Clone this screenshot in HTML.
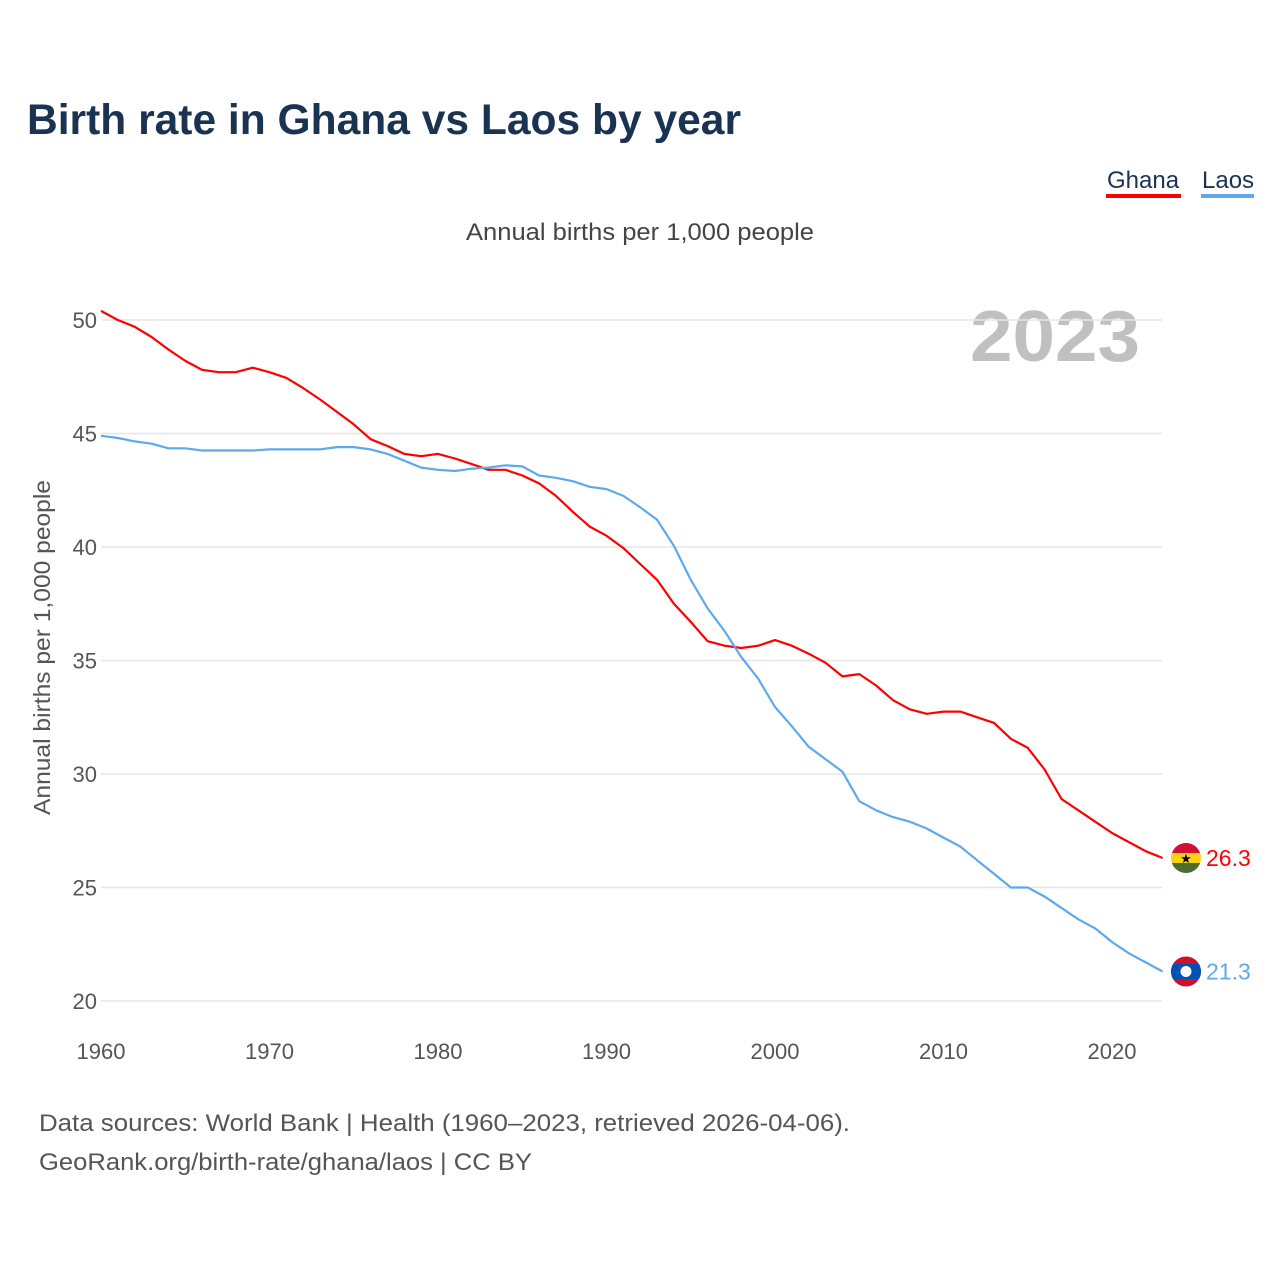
<!DOCTYPE html>
<html><head><meta charset="utf-8">
<style>
body{margin:0;background:#fff;font-family:"Liberation Sans",sans-serif;}
svg{display:block}
</style></head>
<body>
<svg id="chart" width="1280" height="1280" viewBox="0 0 1280 1280" xmlns="http://www.w3.org/2000/svg">
<text x="27" y="134" font-size="43" font-weight="bold" fill="#1a3353" textLength="714" lengthAdjust="spacingAndGlyphs">Birth rate in Ghana vs Laos by year</text>
<g>
<g><text x="1107" y="188" font-size="24" fill="#1a3353">Ghana</text><rect x="1106" y="194" width="75" height="4" fill="#ff0000"/></g>
<g><text x="1202" y="188" font-size="24" fill="#1a3353">Laos</text><rect x="1201" y="194" width="53" height="4" fill="#5ea9ec"/></g>
</g>
<text x="466" y="240" font-size="24" fill="#444" textLength="348" lengthAdjust="spacingAndGlyphs">Annual births per 1,000 people</text>
<text x="970" y="361" font-size="72" font-weight="bold" fill="#c0c0c0" textLength="170" lengthAdjust="spacingAndGlyphs">2023</text>
<text transform="translate(50,815) rotate(-90)" font-size="23" fill="#555" textLength="335" lengthAdjust="spacingAndGlyphs">Annual births per 1,000 people</text>
<g id="grid"></g>
<g id="yticks"></g>
<g id="xticks"></g>
<g id="series"></g>
<g id="ends"></g>
<text x="39" y="1131" font-size="24" fill="#555" textLength="811" lengthAdjust="spacingAndGlyphs">Data sources: World Bank | Health (1960–2023, retrieved 2026-04-06).</text>
<text x="39" y="1170" font-size="24" fill="#555" textLength="493" lengthAdjust="spacingAndGlyphs">GeoRank.org/birth-rate/ghana/laos | CC BY</text>
</svg>
<script>
const startYear = 1960;
const ghana = [50.4,50.0,49.7,49.25,48.7,48.2,47.8,47.7,47.7,47.9,47.7,47.45,47.0,46.5,45.95,45.4,44.75,44.45,44.1,44.0,44.1,43.9,43.65,43.4,43.4,43.15,42.8,42.25,41.55,40.9,40.5,39.95,39.25,38.55,37.5,36.7,35.85,35.65,35.55,35.65,35.9,35.65,35.3,34.9,34.3,34.4,33.9,33.25,32.85,32.65,32.75,32.75,32.5,32.25,31.55,31.15,30.2,28.9,28.4,27.9,27.4,27.0,26.6,26.3];
const laos = [44.9,44.8,44.65,44.55,44.35,44.35,44.25,44.25,44.25,44.25,44.3,44.3,44.3,44.3,44.4,44.4,44.3,44.1,43.8,43.5,43.4,43.35,43.45,43.5,43.6,43.55,43.15,43.05,42.9,42.65,42.55,42.25,41.75,41.2,40.05,38.55,37.3,36.3,35.15,34.2,32.95,32.1,31.2,30.65,30.1,28.8,28.4,28.1,27.9,27.6,27.2,26.8,26.2,25.6,25.0,25.0,24.6,24.1,23.6,23.2,22.6,22.1,21.7,21.3];
const yTicks = [20,25,30,35,40,45,50];
const xTicks = [1960,1970,1980,1990,2000,2010,2020];

const NS="http://www.w3.org/2000/svg";
const x = yr => 101 + (yr-1960)*(1011/60);
const y = v => 1001 - (v-20)*(681/30);
function mk(tag, attrs, parent, txt){const e=document.createElementNS(NS,tag);for(const k in attrs)e.setAttribute(k,attrs[k]);if(txt!==undefined)e.textContent=txt;parent.appendChild(e);return e;}
const grid=document.getElementById('grid'), yt=document.getElementById('yticks'), xt=document.getElementById('xticks'), ser=document.getElementById('series'), ends=document.getElementById('ends');
yTicks.forEach(t=>{
  const l=mk('line',{x1:101,x2:1162,y1:y(t),y2:y(t),stroke:'#e6e6e6','stroke-width':1.5},grid);
  
  
  const tx=mk('text',{x:97,y:y(t)+8,'font-size':22,fill:'#555','text-anchor':'end'},yt,String(t));
  
  
});
xTicks.forEach(t=>{
  const tx=mk('text',{x:x(t),y:1059,'font-size':22,fill:'#555','text-anchor':'middle'},xt,String(t));
  
  
});
function line(vals,color,name){
  const d=vals.map((v,i)=>(i?'L':'M')+x(startYear+i).toFixed(1)+','+y(v).toFixed(1)).join('');
  const p=mk('path',{d:d,fill:'none',stroke:color,'stroke-width':2.2,'stroke-linejoin':'round'},ser);
  
  
}
line(ghana,'#ff0000','ghana-line');
line(laos,'#5ea9ec','laos-line');
const gy=y(ghana[ghana.length-1]), ly=y(laos[laos.length-1]), ex=1186;
const defs=mk('defs',{},ends);
mk('clipPath',{id:'cg'},defs); mk('circle',{cx:ex,cy:gy,r:15},document.getElementById('cg'));
mk('clipPath',{id:'cl'},defs); mk('circle',{cx:ex,cy:ly,r:15},document.getElementById('cl'));
const gf=mk('g',{'clip-path':'url(#cg)'},ends);


mk('rect',{x:ex-15,y:gy-15,width:30,height:10,fill:'#d21034'},gf);
mk('rect',{x:ex-15,y:gy-5,width:30,height:10,fill:'#fcd116'},gf);
mk('rect',{x:ex-15,y:gy+5,width:30,height:10,fill:'#4f6b34'},gf);
mk('text',{x:ex,y:gy+5,'font-size':13,'text-anchor':'middle',fill:'#000'},gf,'★');
const lf=mk('g',{'clip-path':'url(#cl)'},ends);


mk('rect',{x:ex-15,y:ly-15,width:30,height:30,fill:'#ce1126'},lf);
mk('rect',{x:ex-15,y:ly-7.5,width:30,height:15,fill:'#0050b5'},lf);
mk('circle',{cx:ex,cy:ly,r:5.5,fill:'#fff'},lf);
const gl=mk('text',{x:1206,y:gy+8,'font-size':23,fill:'#ff0000'},ends,ghana[ghana.length-1].toFixed(1));


const ll=mk('text',{x:1206,y:ly+8,'font-size':23,fill:'#5ea9ec'},ends,laos[laos.length-1].toFixed(1));


</script>
</body></html>
